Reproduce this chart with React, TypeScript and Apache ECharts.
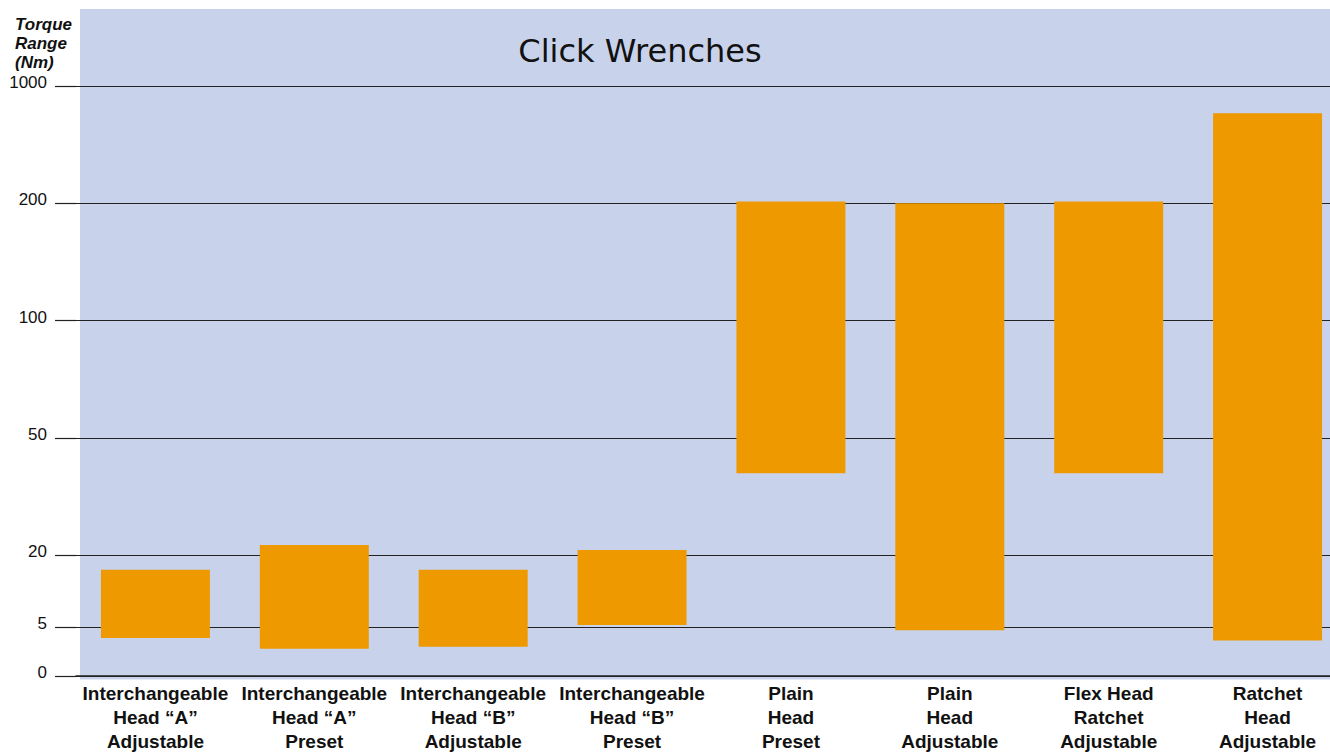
import React, { useEffect, useRef } from "react";
import * as echarts from "echarts";

// Category labels (x axis)
const CATEGORIES = [
  "Interchangeable\nHead “A”\nAdjustable",
  "Interchangeable\nHead “A”\nPreset",
  "Interchangeable\nHead “B”\nAdjustable",
  "Interchangeable\nHead “B”\nPreset",
  "Plain\nHead\nPreset",
  "Plain\nHead\nAdjustable",
  "Flex Head\nRatchet\nAdjustable",
  "Ratchet\nHead\nAdjustable",
];

// Torque range per wrench (Nm)
const LOW_NM = [3.9, 2.8, 3.0, 5.5, 41, 4.7, 41, 3.65];
const HIGH_NM = [17, 22.7, 17, 21.4, 213, 201, 213, 815];

// Piecewise axis: tick values (Nm) and their positions on the axis
const TICK_VALUES = [0, 5, 20, 50, 100, 200, 1000];
const TICK_POS = [0, 0.415, 1.027, 2.027, 3.027, 4.027, 5.027];

const TITLE = "Click Wrenches";
const Y_TITLE = "Torque\nRange\n(Nm)";

function toPos(v: number): number {
  for (let i = 1; i < TICK_VALUES.length; i++) {
    if (v <= TICK_VALUES[i]) {
      const a = TICK_VALUES[i - 1];
      const b = TICK_VALUES[i];
      return TICK_POS[i - 1] + ((v - a) / (b - a)) * (TICK_POS[i] - TICK_POS[i - 1]);
    }
  }
  return TICK_POS[TICK_POS.length - 1];
}

function labelFor(pos: number): string {
  let best = 0;
  for (let i = 0; i < TICK_POS.length; i++) {
    if (Math.abs(TICK_POS[i] - pos) < Math.abs(TICK_POS[best] - pos)) best = i;
  }
  return String(TICK_VALUES[best]);
}

export default function App() {
  const ref = useRef<HTMLDivElement>(null);

  useEffect(() => {
    if (!ref.current) return;
    const chart = echarts.init(ref.current, undefined, { renderer: "svg" });
    const base = LOW_NM.map((v) => toPos(v));
    const span = HIGH_NM.map((v, i) => toPos(v) - toPos(LOW_NM[i]));
    const yMax = TICK_POS[TICK_POS.length - 1];
    const font = "'Liberation Sans', Arial, Helvetica, sans-serif";

    chart.setOption({
      animation: false,
      backgroundColor: "#ffffff",
      graphic: [
        {
          type: "rect",
          z: -10,
          shape: { x: 80, y: 9, width: 1280, height: 670.5 },
          style: { fill: "#C8D3EB" },
          silent: true,
        },
        {
          type: "text",
          z: 10,
          x: 640,
          y: 51,
          style: {
            text: TITLE,
            fill: "#111111",
            font: "normal 32px 'DejaVu Sans', sans-serif",
            textAlign: "center",
            textVerticalAlign: "middle",
          },
        },
        {
          type: "text",
          z: 10,
          x: 15,
          y: 15,
          style: {
            text: Y_TITLE,
            fill: "#111111",
            font: "italic bold 17px " + font,
            lineHeight: 19,
            textAlign: "left",
            textVerticalAlign: "top",
          },
        },
      ],
      grid: { left: 76, right: 0, top: 86, bottom: 73.5, containLabel: false },
      xAxis: {
        type: "category",
        data: CATEGORIES,
        axisLine: { show: true, lineStyle: { color: "#222222", width: 1.5 } },
        axisTick: { show: false },
        axisLabel: {
          interval: 0,
          margin: 5,
          color: "#111111",
          fontFamily: font,
          fontWeight: "bold",
          fontSize: 19,
          lineHeight: 24,
        },
        splitLine: { show: false },
      },
      yAxis: [
        {
          type: "value",
          min: 0,
          max: yMax,
          axisLine: { show: false },
          axisTick: {
            show: true,
            customValues: TICK_POS,
            length: 21,
            lineStyle: { color: "#222222", width: 1.2 },
          },
          splitLine: {
            show: true,
            lineStyle: { color: "#222222", width: 1.2 },
          },
          axisLabel: {
            customValues: TICK_POS,
            showMinLabel: true,
            showMaxLabel: true,
            formatter: (v: number) => labelFor(v),
            margin: 29,
            color: "#111111",
            fontFamily: font,
            fontSize: 17,
            verticalAlign: "bottom",
            lineHeight: 7,
          },
        },
        {
          type: "value",
          min: 0,
          max: yMax,
          offset: 21,
          axisLine: { show: true, lineStyle: { color: "#555555", width: 1.2 } },
          axisTick: { show: false },
          axisLabel: { show: false },
          splitLine: { show: false },
        },
      ],
      series: [
        {
          type: "bar",
          stack: "range",
          data: base,
          barWidth: 109,
          itemStyle: { color: "transparent" },
          silent: true,
        },
        {
          type: "bar",
          stack: "range",
          data: span,
          barWidth: 109,
          itemStyle: { color: "#EF9900" },
          silent: true,
        },
      ],
    });

    return () => chart.dispose();
  }, []);

  return (
    <div
      style={{
        position: "absolute",
        left: 0,
        top: 0,
        width: 1330,
        height: 753,
        overflow: "hidden",
      }}
    >
      <div ref={ref} style={{ width: 1347, height: 753 }} />
    </div>
  );
}
